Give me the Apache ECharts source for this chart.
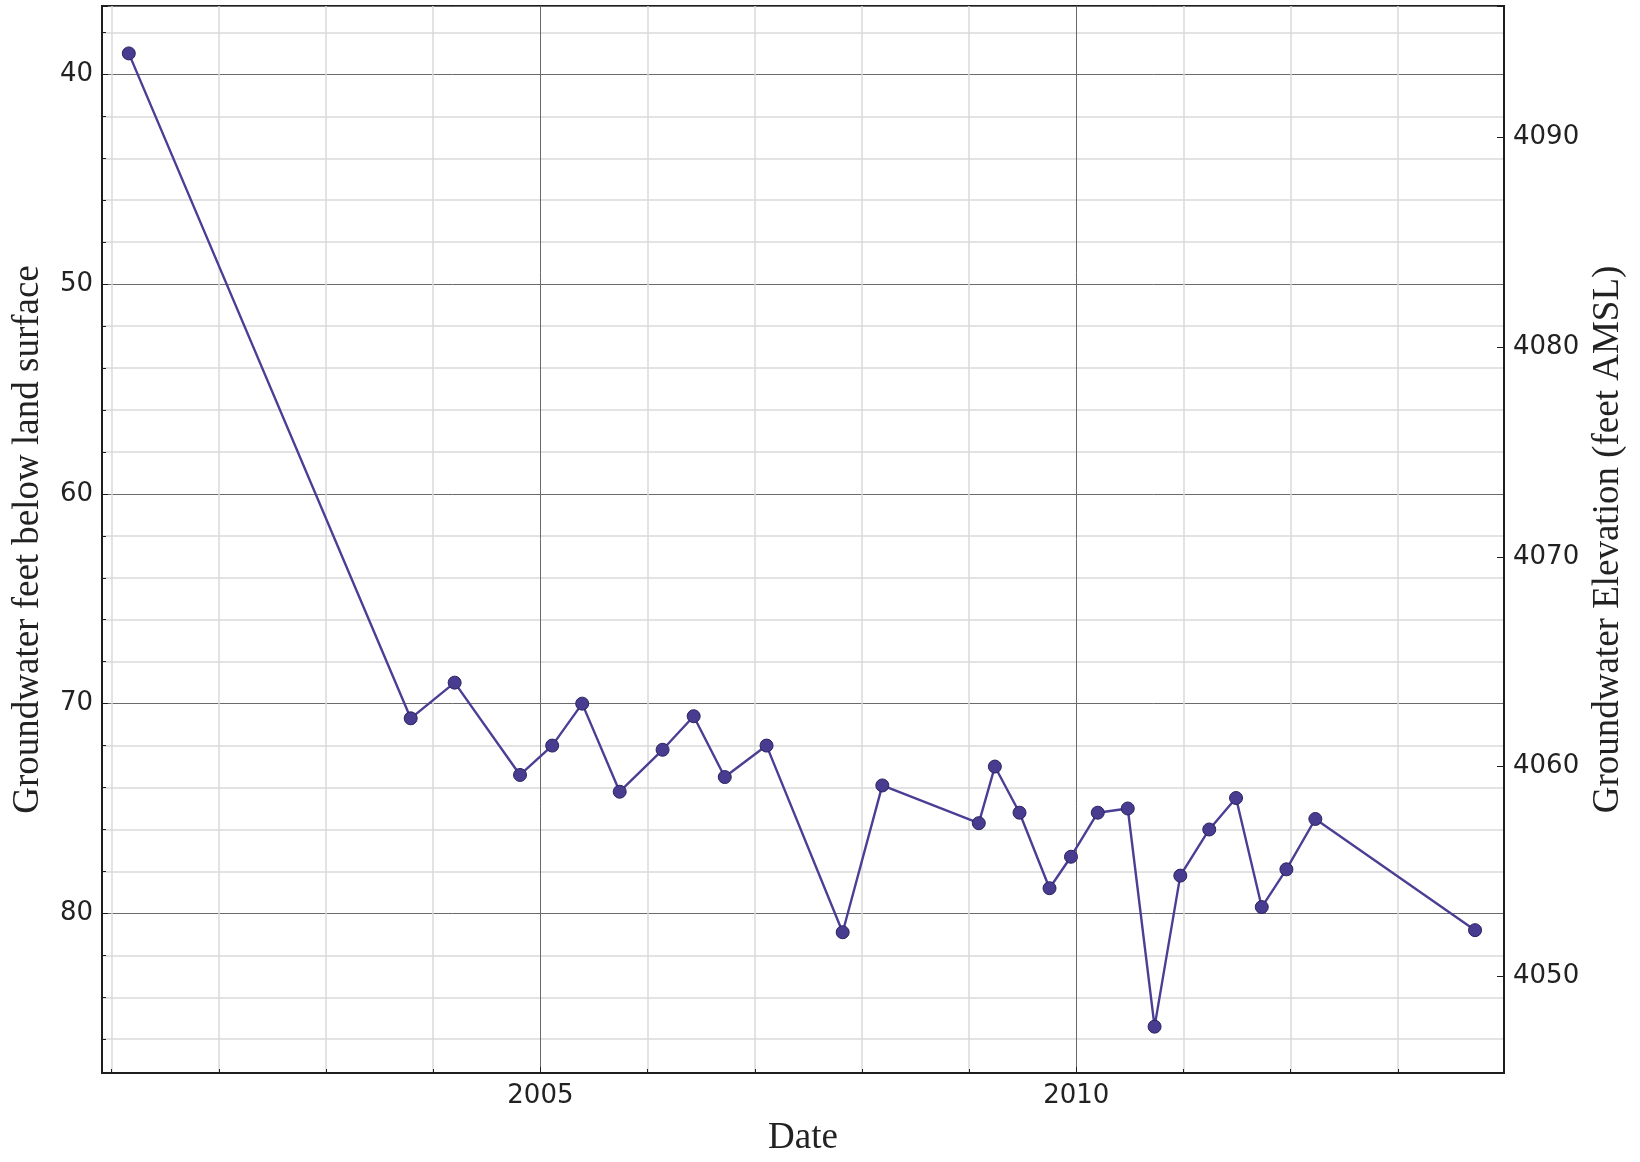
<!DOCTYPE html>
<html>
<head>
<meta charset="utf-8">
<script src="https://cdn.jsdelivr.net/npm/echarts/dist/echarts.min.js"></script>
<style>
  html, body { margin: 0; padding: 0; background: #ffffff; }
  #chart { width: 1640px; height: 1162px; }
</style>
</head>
<body>
<div id="chart"></div>
<script>
// Measurement dates (decimal years)
const dates = [
  2001.16, 2003.79, 2004.20, 2004.81, 2005.11, 2005.39, 2005.74, 2006.14,
  2006.43, 2006.72, 2007.11, 2007.82, 2008.19, 2009.09, 2009.24, 2009.47,
  2009.75, 2009.95, 2010.20, 2010.48, 2010.73, 2010.97, 2011.24, 2011.49,
  2011.73, 2011.96, 2012.23, 2013.72
];
// Groundwater depth, feet below land surface
const depthFt = [
  39.0, 70.7, 69.0, 73.4, 72.0, 70.0, 74.2, 72.2,
  70.6, 73.5, 72.0, 80.9, 73.9, 75.7, 73.0, 75.2,
  78.8, 77.3, 75.2, 75.0, 85.4, 78.2, 76.0, 74.5,
  79.7, 77.9, 75.5, 80.8
];
// Land surface elevation (feet AMSL) used for the right-hand axis
const landSurfaceElev = 4133;
// Axis ranges and tick labels
const yearRange = [2000.91, 2013.99];
const depthRange = [36.74, 87.61];
const yearTicks = [2005, 2010];
const depthTicks = [40, 50, 60, 70, 80];
const elevTicks = [4050, 4060, 4070, 4080, 4090];

const seriesData = dates.map((d, i) => [d, depthFt[i]]);
const near = (v, list) => list.some(t => Math.abs(t - v) < 1e-6);

const tickFont = { fontFamily: 'DejaVu Sans', fontSize: 26, color: '#222' };
const nameFont = { fontFamily: 'Liberation Serif', fontSize: 37, color: '#222' };

const chart = echarts.init(document.getElementById('chart'), null, { renderer: 'canvas' });
chart.setOption({
  animation: false,
  backgroundColor: '#ffffff',
  grid: {
    left: 102, right: 136, top: 6, bottom: 87,
    show: true, borderColor: '#1e1e1e', borderWidth: 2, backgroundColor: 'transparent'
  },
  xAxis: {
    type: 'value',
    min: yearRange[0], max: yearRange[1],
    splitNumber: 3,
    name: 'Date',
    nameLocation: 'middle',
    nameGap: 47,
    nameTextStyle: nameFont,
    axisLine: { show: true, lineStyle: { color: '#1e1e1e', width: 2 } },
    axisTick: { show: true, inside: true, length: 6, lineStyle: { color: '#1e1e1e', width: 1 } },
    minorTick: { show: true, splitNumber: 5, length: 4, lineStyle: { color: '#1e1e1e' } },
    axisLabel: Object.assign({ margin: 10, formatter: v => near(v, yearTicks) ? String(Math.round(v)) : '' }, tickFont),
    splitLine: { show: true, lineStyle: { color: '#6a6a6a', width: 1 } },
    minorSplitLine: { show: true, lineStyle: { color: '#dadada', width: 1.5 } }
  },
  yAxis: [
    {
      type: 'value',
      inverse: true,
      position: 'left',
      min: depthRange[0], max: depthRange[1],
      splitNumber: 5,
      name: 'Groundwater feet below land surface',
      nameLocation: 'middle',
      nameRotate: 90,
      nameGap: 55,
      nameTextStyle: nameFont,
      axisLine: { show: true, lineStyle: { color: '#1e1e1e', width: 2 } },
      axisTick: { show: true, inside: true, length: 6, lineStyle: { color: '#1e1e1e', width: 1 } },
      minorTick: { show: true, splitNumber: 5, length: 4, lineStyle: { color: '#1e1e1e' } },
      axisLabel: Object.assign({ margin: 9, formatter: v => near(v, depthTicks) ? String(Math.round(v)) : '' }, tickFont),
      splitLine: { show: true, lineStyle: { color: '#6a6a6a', width: 1 } },
      minorSplitLine: { show: true, lineStyle: { color: '#dadada', width: 1.5 } }
    },
    {
      type: 'value',
      position: 'right',
      min: landSurfaceElev - depthRange[1], max: landSurfaceElev - depthRange[0],
      splitNumber: 5,
      name: 'Groundwater Elevation (feet AMSL)',
      nameLocation: 'middle',
      nameRotate: 90,
      nameGap: 82,
      nameTextStyle: nameFont,
      axisLine: { show: true, lineStyle: { color: '#1e1e1e', width: 2 } },
      axisTick: { show: true, inside: true, length: 7, lineStyle: { color: '#1e1e1e', width: 1 } },
      axisLabel: Object.assign({ margin: 9, formatter: v => near(v, elevTicks) ? String(Math.round(v)) : '' }, tickFont),
      splitLine: { show: false }
    }
  ],
  series: [{
    type: 'line',
    yAxisIndex: 0,
    data: seriesData,
    symbol: 'circle',
    symbolSize: 13,
    lineStyle: { color: '#4a3f94', width: 2.4 },
    itemStyle: { color: '#473c8f', borderColor: '#2b2362', borderWidth: 1 },
    z: 5
  }]
});
</script>
</body>
</html>
